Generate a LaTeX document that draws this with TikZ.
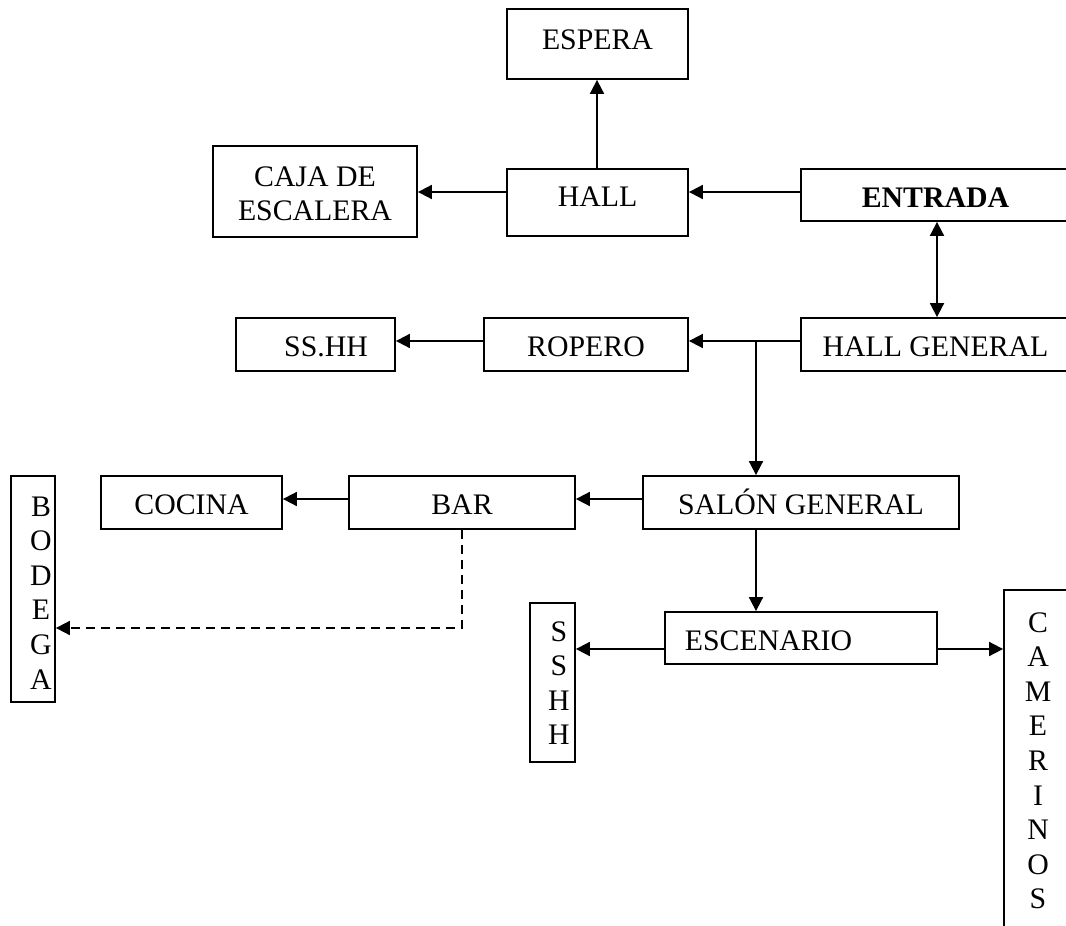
\documentclass[tikz,border=0pt]{standalone}
\usepackage{fontspec}
\setmainfont{Liberation Serif}
\usetikzlibrary{arrows.meta}
\newcommand{\bxt}[3]{\makebox[0pt]{\hspace*{#1}\raisebox{#2}[0pt][0pt]{#3}\hspace*{-#1}}}
\newcommand{\stk}[1]{\vtop{\baselineskip=34.6pt\lineskiplimit=-100pt\lineskip=0pt\halign{\hfil##\hfil\cr#1\crcr}}}
\begin{document}
\begin{tikzpicture}[x=1pt,y=-1pt,
  box/.style={draw, line width=1.8pt, inner sep=0pt, font=\fontsize{29.8}{34.4}\selectfont},
  arr/.style={line width=1.8pt, -{Triangle[length=14pt,width=14pt]}},
  darr/.style={line width=1.8pt, {Triangle[length=14pt,width=14pt]}-{Triangle[length=14pt,width=14pt]}},
  dsh/.style={line width=1.8pt, dash pattern=on 9pt off 6pt, -{Triangle[length=14pt,width=14pt]}}]
\useasboundingbox (0,0) rectangle (1066,926);
\clip (0,0) rectangle (1066,926);

% top group
\node[box, minimum width=181pt, minimum height=70pt] (esp) at (597.5,44) {\bxt{0pt}{-5.3pt}{ESPERA}};
\node[box, minimum width=204pt, minimum height=91pt] (caja) at (315,191.5) {\bxt{0pt}{5.5pt}{\stk{CAJA DE\cr ESCALERA}}};
\node[box, minimum width=181pt, minimum height=67pt] (hall) at (597.5,202.5) {\bxt{0pt}{-4.2pt}{HALL}};
\node[box, minimum width=269pt, minimum height=52pt] (ent) at (935.5,195) {\bxt{0pt}{-12.3pt}{\textbf{ENTRADA}}};

% second row
\node[box, minimum width=269pt, minimum height=53pt] (hg) at (935.5,344.5) {\bxt{0pt}{-11.5pt}{HALL GENERAL}};
\node[box, minimum width=204pt, minimum height=53pt] (rop) at (586,344.5) {\bxt{0pt}{-11.5pt}{ROPERO}};
\node[box, minimum width=159pt, minimum height=53pt] (sshh1) at (315.5,344.5) {\bxt{10.5pt}{-11.5pt}{SS.HH}};

% third row
\node[box, minimum width=316pt, minimum height=53pt] (sal) at (801,502.5) {\bxt{0pt}{-11.5pt}{SALÓN GENERAL}};
\node[box, minimum width=226pt, minimum height=53pt] (bar) at (462,502.5) {\bxt{0pt}{-11.5pt}{BAR}};
\node[box, minimum width=181pt, minimum height=53pt] (coc) at (191.5,502.5) {\bxt{0pt}{-11.5pt}{COCINA}};
\node[box, minimum width=44pt, minimum height=226pt] (bod) at (33,589) {\bxt{8pt}{73pt}{\stk{B\cr O\cr D\cr E\cr G\cr A}}};

% fourth row
\node[box, minimum width=272pt, minimum height=52pt] (esc) at (801,638) {\bxt{-32.5pt}{-12pt}{ESCENARIO}};
\node[box, minimum width=45pt, minimum height=159pt] (sshh2) at (552.5,682.5) {\bxt{6.5pt}{41.5pt}{\stk{S\cr S\cr H\cr H}}};
\node[box, minimum width=68pt, minimum height=390pt] (cam) at (1038,785) {\bxt{0pt}{153pt}{\stk{C\cr A\cr M\cr E\cr R\cr I\cr N\cr O\cr S}}};

% connectors
\coordinate (hx) at (597,0);
\draw[arr] (hall.north -| hx) -- (esp.south -| hx);
\coordinate (h1) at (hall.west |- 0,192);
\draw[arr] (h1) -- (h1 -| caja.east);
\coordinate (e1) at (ent.west |- 0,192);
\draw[arr] (e1) -- (e1 -| hall.east);
\coordinate (dx) at (937,0);
\draw[darr] (ent.south -| dx) -- (hg.north -| dx);
\coordinate (g1) at (hg.west |- 0,341);
\draw[arr] (g1) -- (g1 -| rop.east);
\coordinate (r1) at (rop.west |- 0,341);
\draw[arr] (r1) -- (r1 -| sshh1.east);
\coordinate (br) at (756,341);
\draw[arr] (br) -- (br |- sal.north);
\coordinate (s1) at (sal.west |- 0,499);
\draw[arr] (s1) -- (s1 -| bar.east);
\coordinate (b1) at (bar.west |- 0,499);
\draw[arr] (b1) -- (b1 -| coc.east);
\draw[arr] (sal.south -| br) -- (esc.north -| br);
\coordinate (bd) at (bar.south |- 0,628);
\draw[dsh] (bar.south) -- (bd) -- (bd -| bod.east);
\coordinate (c1) at (esc.west |- 0,649);
\draw[arr] (c1) -- (c1 -| sshh2.east);
\coordinate (c2) at (esc.east |- 0,649);
\draw[arr] (c2) -- (c2 -| cam.west);
\end{tikzpicture}
\end{document}
